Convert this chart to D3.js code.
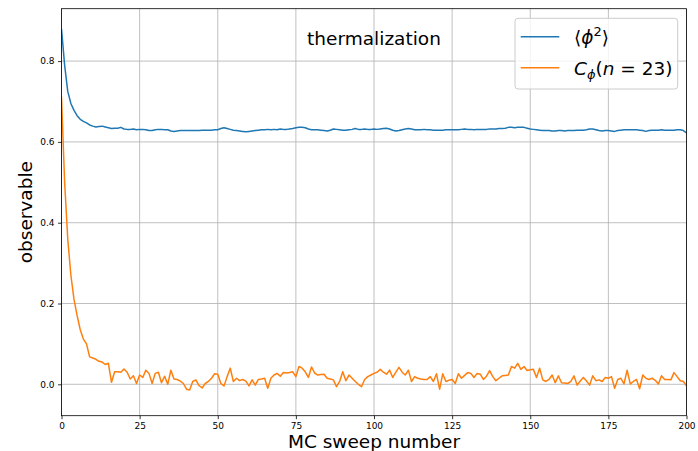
<!DOCTYPE html>
<html>
<head>
<meta charset="utf-8">
<script src="https://cdn.jsdelivr.net/npm/d3@7"></script>
<style>
  html, body { margin: 0; padding: 0; background: #fff; }
  svg { display: block; font-family: "DejaVu Sans", sans-serif; }
</style>
</head>
<body>
<svg id="chart" width="698" height="451"></svg>
<script>
// ---------- data ----------
const sweeps = d3.range(0, 201);
const phi2 = [
0.880,0.790,0.725,0.695,0.678,0.665,0.656,0.651,0.647,0.642,
0.639,0.637,0.638,0.639,0.637,0.635,0.633,0.634,0.634,0.636,
0.632,0.631,0.631,0.632,0.630,0.631,0.631,0.630,0.628,0.628,
0.630,0.631,0.631,0.630,0.630,0.627,0.626,0.627,0.628,0.628,
0.628,0.628,0.628,0.628,0.628,0.629,0.629,0.629,0.629,0.630,
0.630,0.633,0.635,0.633,0.631,0.629,0.628,0.627,0.626,0.625,
0.626,0.627,0.628,0.629,0.630,0.630,0.631,0.630,0.631,0.630,
0.632,0.631,0.631,0.632,0.633,0.635,0.636,0.636,0.635,0.632,
0.630,0.630,0.630,0.629,0.628,0.627,0.629,0.632,0.631,0.630,
0.629,0.629,0.630,0.631,0.633,0.631,0.631,0.632,0.631,0.631,
0.632,0.631,0.632,0.633,0.634,0.632,0.629,0.627,0.628,0.630,
0.632,0.633,0.632,0.630,0.630,0.630,0.631,0.630,0.630,0.629,
0.629,0.629,0.629,0.630,0.630,0.630,0.630,0.630,0.631,0.632,
0.631,0.631,0.630,0.631,0.631,0.631,0.631,0.632,0.632,0.632,
0.633,0.633,0.634,0.636,0.636,0.635,0.636,0.636,0.636,0.634,
0.632,0.631,0.630,0.629,0.628,0.628,0.628,0.627,0.627,0.628,
0.628,0.627,0.628,0.628,0.628,0.629,0.629,0.629,0.630,0.632,
0.632,0.630,0.628,0.627,0.628,0.628,0.627,0.626,0.628,0.629,
0.630,0.630,0.630,0.630,0.630,0.629,0.628,0.626,0.628,0.629,
0.629,0.629,0.630,0.629,0.629,0.629,0.629,0.630,0.630,0.628,
0.622];
const corr = [
0.712,0.500,0.360,0.270,0.210,0.170,0.135,0.112,0.100,0.068,
0.065,0.062,0.057,0.055,0.049,0.052,0.005,0.031,0.031,0.030,
0.038,0.030,0.013,0.021,0.002,0.023,0.017,0.035,0.027,0.002,
0.027,0.030,0.004,0.020,0.000,0.035,0.013,0.012,0.008,0.002,
-0.012,-0.014,0.007,0.011,-0.003,-0.009,0.002,0.007,0.015,0.026,
0.025,0.002,-0.004,0.019,0.040,0.007,0.015,0.009,0.012,0.008,
-0.004,0.011,-0.002,0.012,0.013,0.015,-0.010,0.015,0.023,0.027,
0.020,0.029,0.028,0.029,0.031,0.019,0.044,0.040,0.031,0.017,
0.043,0.028,0.023,0.024,0.025,0.015,0.013,0.011,-0.006,0.007,
0.031,0.009,0.023,0.015,0.007,0.000,-0.006,0.012,0.019,0.023,
0.027,0.030,0.037,0.030,0.025,0.035,0.017,0.030,0.042,0.030,
0.023,0.035,0.007,0.019,0.015,0.013,0.012,0.012,0.019,0.007,
0.026,-0.012,0.026,0.007,0.010,0.012,0.002,0.026,0.015,0.022,
0.029,0.027,0.017,0.027,0.025,0.012,0.020,0.034,0.019,0.009,
0.015,0.021,0.022,0.023,0.044,0.040,0.052,0.037,0.044,0.034,
0.036,0.037,0.017,0.040,0.011,0.007,0.012,0.023,0.004,0.021,
0.004,0.003,0.002,0.007,0.021,-0.002,0.008,0.017,0.008,-0.002,
0.021,0.009,0.011,0.007,0.017,0.015,0.019,-0.010,0.012,0.015,
0.001,0.035,0.001,0.007,0.012,-0.011,0.023,0.015,0.012,0.015,
0.010,0.001,0.021,0.012,0.012,0.011,0.029,0.019,0.009,0.007,
-0.004];
const xTicks = [0, 25, 50, 75, 100, 125, 150, 175, 200];
const yTicks = [0.0, 0.2, 0.4, 0.6, 0.8];
const xDomain = [0, 200];
const yDomain = [-0.0777, 0.9297];
const titleText = "thermalization";
const xLabel = "MC sweep number";
const yLabel = "observable";

// ---------- layout ----------
const svg = d3.select("#chart");
const L = 61.5, R = 686.5, T = 8.7, B = 415.7;
const x = d3.scaleLinear().domain(xDomain).range([L, R]);
const y = d3.scaleLinear().domain(yDomain).range([B, T]);
const blue = "#1f77b4", orange = "#ff7f0e";

svg.append("rect").attr("width", 698).attr("height", 451).attr("fill", "#fff");

// grid
const grid = svg.append("g");
grid.selectAll(".gx").data(xTicks).join("line")
  .attr("x1", d => x(d)).attr("x2", d => x(d)).attr("y1", T).attr("y2", B)
  .attr("stroke", "#b0b0b0").attr("stroke-width", 0.8);
grid.selectAll(".gy").data(yTicks).join("line")
  .attr("x1", L).attr("x2", R).attr("y1", d => y(d)).attr("y2", d => y(d))
  .attr("stroke", "#b0b0b0").attr("stroke-width", 0.8);

// axes
const xAxis = d3.axisBottom(x).tickValues(xTicks).tickFormat(d3.format("d"))
  .tickSizeInner(3.5).tickSizeOuter(0).tickPadding(3.5);
const yAxis = d3.axisLeft(y).tickValues(yTicks).tickFormat(d3.format(".1f"))
  .tickSizeInner(3.5).tickSizeOuter(0).tickPadding(3.5);
const gx = svg.append("g").attr("transform", `translate(0,${B})`).call(xAxis);
const gy = svg.append("g").attr("transform", `translate(${L},0)`).call(yAxis);
[gx, gy].forEach(g => {
  g.select(".domain").remove();
  g.selectAll("text").attr("font-size", 9).attr("fill", "#000")
    .attr("font-family", "DejaVu Sans, sans-serif");
  g.selectAll("line").attr("stroke", "#000").attr("stroke-width", 0.8);
});

// lines
const line = d3.line().x((d, i) => x(sweeps[i])).y(d => y(d));
const clip = svg.append("clipPath").attr("id", "clip")
  .append("rect").attr("x", L).attr("y", T).attr("width", R - L).attr("height", B - T);
svg.append("path").datum(phi2).attr("d", line).attr("fill", "none")
  .attr("stroke", blue).attr("stroke-width", 1.5).attr("clip-path", "url(#clip)")
  .attr("stroke-linejoin", "round");
svg.append("path").datum(corr).attr("d", line).attr("fill", "none")
  .attr("stroke", orange).attr("stroke-width", 1.5).attr("clip-path", "url(#clip)")
  .attr("stroke-linejoin", "round");

// frame
svg.append("rect").attr("x", L).attr("y", T).attr("width", R - L).attr("height", B - T)
  .attr("fill", "none").attr("stroke", "#000").attr("stroke-width", 0.8);

// title (inside plot)
svg.append("text").attr("x", (L + R) / 2).attr("y", 44.5).attr("text-anchor", "middle")
  .attr("font-size", 18.5).attr("fill", "#000").text(titleText);

// axis labels
svg.append("text").attr("x", (L + R) / 2).attr("y", 448).attr("text-anchor", "middle")
  .attr("font-size", 18.5).attr("fill", "#000").text(xLabel);
svg.append("text").attr("transform", `translate(32,${(T + B) / 2}) rotate(-90)`)
  .attr("text-anchor", "middle").attr("font-size", 18.5).attr("fill", "#000").text(yLabel);

// legend
const lg = svg.append("g");
lg.append("rect").attr("x", 515).attr("y", 18.3).attr("width", 162.7).attr("height", 70.7)
  .attr("rx", 3).attr("fill", "#fff").attr("fill-opacity", 0.8)
  .attr("stroke", "#cccccc").attr("stroke-width", 1);
const legendItems = [
  { color: blue, y: 36.7 },
  { color: orange, y: 67.7 }
];
lg.selectAll(".ll").data(legendItems).join("line")
  .attr("x1", 520.7).attr("x2", 559.3).attr("y1", d => d.y).attr("y2", d => d.y)
  .attr("stroke", d => d.color).attr("stroke-width", 1.5);

const t1 = lg.append("text").attr("x", 574).attr("y", 43.5).attr("font-size", 18.5).attr("fill", "#000");
t1.append("tspan").text("⟨");
t1.append("tspan").attr("font-style", "italic").text("ϕ");
t1.append("tspan").attr("font-size", 13).attr("dy", -8).text("2");
t1.append("tspan").attr("dy", 8).text("⟩");

const t2 = lg.append("text").attr("x", 574).attr("y", 74.5).attr("font-size", 18.5).attr("fill", "#000");
t2.append("tspan").attr("font-style", "italic").text("C");
t2.append("tspan").attr("font-style", "italic").attr("font-size", 13).attr("dy", 4).text("ϕ");
t2.append("tspan").attr("dy", -4).text("(");
t2.append("tspan").attr("font-style", "italic").text("n");
t2.append("tspan").text(" = 23)");
</script>
</body>
</html>
